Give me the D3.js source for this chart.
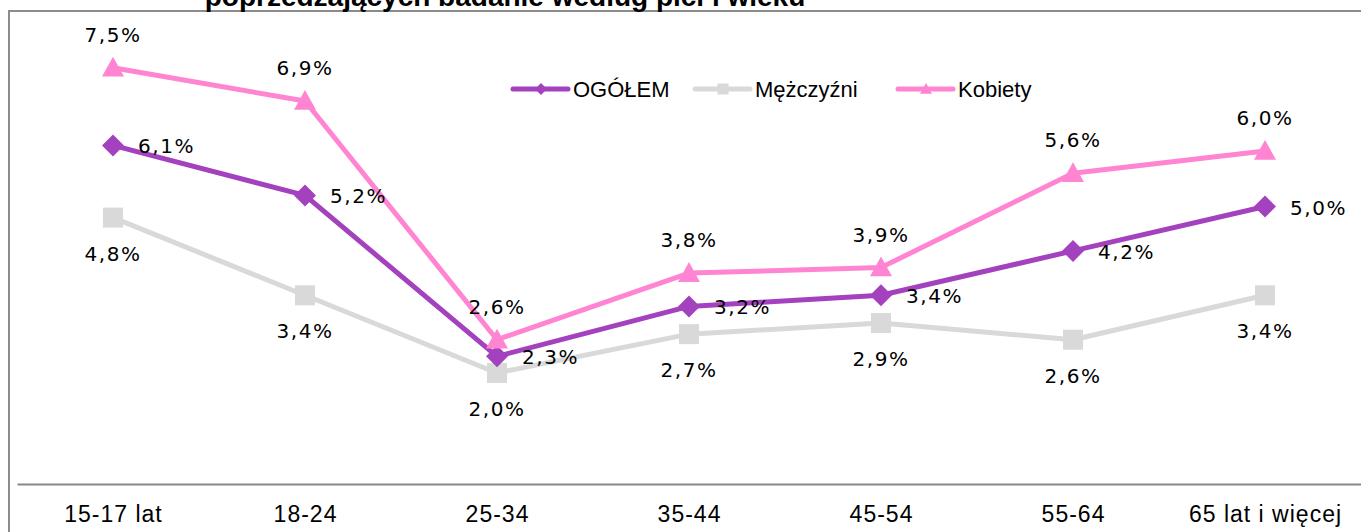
<!DOCTYPE html>
<html>
<head>
<meta charset="utf-8">
<script src="https://d3js.org/d3.v7.min.js"></script>
<style>
  body { margin: 0; background: #fff; }
  svg { display: block; }
</style>
</head>
<body>
<svg width="1361" height="532"></svg>
<script>
// chart values
const categories = ['15-17 lat', '18-24', '25-34', '35-44', '45-54', '55-64', '65 lat i więcej']
const seriesNames = ['OGÓŁEM', 'Mężczyźni', 'Kobiety']
const ogolem = [6.1, 5.2, 2.3, 3.2, 3.4, 4.2, 5.0]
const mezczyzni = [4.8, 3.4, 2.0, 2.7, 2.9, 2.6, 3.4]
const kobiety = [7.5, 6.9, 2.6, 3.8, 3.9, 5.6, 6.0]
const titleText = 'poprzedzających badanie według płci i wieku'

const svg = d3.select('svg')
const fmt = v => v.toFixed(1).replace('.', ',') + '%'

const x = d3.scalePoint().domain(categories).range([17, 1361]).padding(0.5)
const y = d3.scaleLinear().domain([0, 8]).range([484, 40])

// outer frame
svg.append('rect')
  .attr('x', 9).attr('y', 11)
  .attr('width', 1400).attr('height', 600)
  .attr('fill', 'none').attr('stroke', '#8c8c8c').attr('stroke-width', 2)

// title (cut at the top like in the source)
svg.append('text')
  .attr('x', 505).attr('y', 6)
  .attr('text-anchor', 'middle')
  .style('font-family', 'Liberation Sans, Arial, sans-serif')
  .style('font-weight', 'bold')
  .style('font-size', '28px')
  .text(titleText)

// x axis
const xAxis = svg.append('g')
  .attr('transform', 'translate(0,484)')
  .call(d3.axisBottom(x).tickSize(0).tickSizeOuter(0).tickPadding(24))
xAxis.select('.domain').attr('stroke', '#888').attr('stroke-width', 2)
xAxis.selectAll('text')
  .style('font-family', 'Liberation Sans, Arial, sans-serif')
  .style('font-size', '23px')
  .style('letter-spacing', '1px')
  .attr('fill', '#000')
  .attr('dy', '0.6em')

const diamond = r => `M0,${-r}L${r},0L0,${r}L${-r},0Z`
const square = r => `M${-r},${-r}H${r}V${r}H${-r}Z`
const triangle = r => `M0,${-r}L${r},${r * 0.8}H${-r}Z`

const series = [
  { name: seriesNames[1], values: mezczyzni, color: '#d9d9d9', shape: square, size: 10, lab: 'below' },
  { name: seriesNames[0], values: ogolem, color: '#a441be', shape: diamond, size: 11, lab: 'right' },
  { name: seriesNames[2], values: kobiety, color: '#ff85d2', shape: triangle, size: 11, lab: 'above' }
]

const line = d3.line()
  .x((d, i) => x(categories[i]))
  .y(d => y(d))

series.forEach(s => {
  const g = svg.append('g')
  g.append('path')
    .datum(s.values)
    .attr('d', line)
    .attr('fill', 'none')
    .attr('stroke', s.color)
    .attr('stroke-width', 5)
    .attr('stroke-linejoin', 'round')
  g.selectAll('path.m').data(s.values).enter().append('path')
    .attr('class', 'm')
    .attr('d', s.shape(s.size))
    .attr('transform', (d, i) => `translate(${x(categories[i])},${y(d)})`)
    .attr('fill', s.color)
})

// data labels on top
series.forEach(s => {
  svg.append('g').selectAll('text').data(s.values).enter().append('text')
    .attr('x', (d, i) => x(categories[i]) + (s.lab === 'right' ? 25 : 0))
    .attr('y', d => y(d) + (s.lab === 'right' ? 8 : s.lab === 'above' ? -26 : 43))
    .attr('text-anchor', s.lab === 'right' ? 'start' : 'middle')
    .style('font-family', 'DejaVu Sans, Verdana, sans-serif')
    .style('font-size', '20px')
    .style('letter-spacing', '1.6px')
    .attr('fill', '#000')
    .text(fmt)
})

// legend
const legend = [
  { name: seriesNames[0], color: '#a441be', shape: diamond, size: 6, x0: 513 },
  { name: seriesNames[1], color: '#d9d9d9', shape: square, size: 5.5, x0: 695 },
  { name: seriesNames[2], color: '#ff85d2', shape: triangle, size: 6, x0: 898 }
]
const lg = svg.append('g').attr('transform', 'translate(0,89)')
legend.forEach(l => {
  lg.append('line')
    .attr('x1', l.x0).attr('x2', l.x0 + 55)
    .attr('stroke', l.color).attr('stroke-width', 5)
    .attr('stroke-linecap', 'round')
  lg.append('path')
    .attr('d', l.shape(l.size))
    .attr('transform', `translate(${l.x0 + 28},0)`)
    .attr('fill', l.color)
  lg.append('text')
    .attr('x', l.x0 + 60).attr('y', 0).attr('dy', '0.36em')
    .style('font-family', 'Liberation Sans, Arial, sans-serif')
    .style('font-size', '22px')
    .text(l.name)
})
</script>
</body>
</html>
